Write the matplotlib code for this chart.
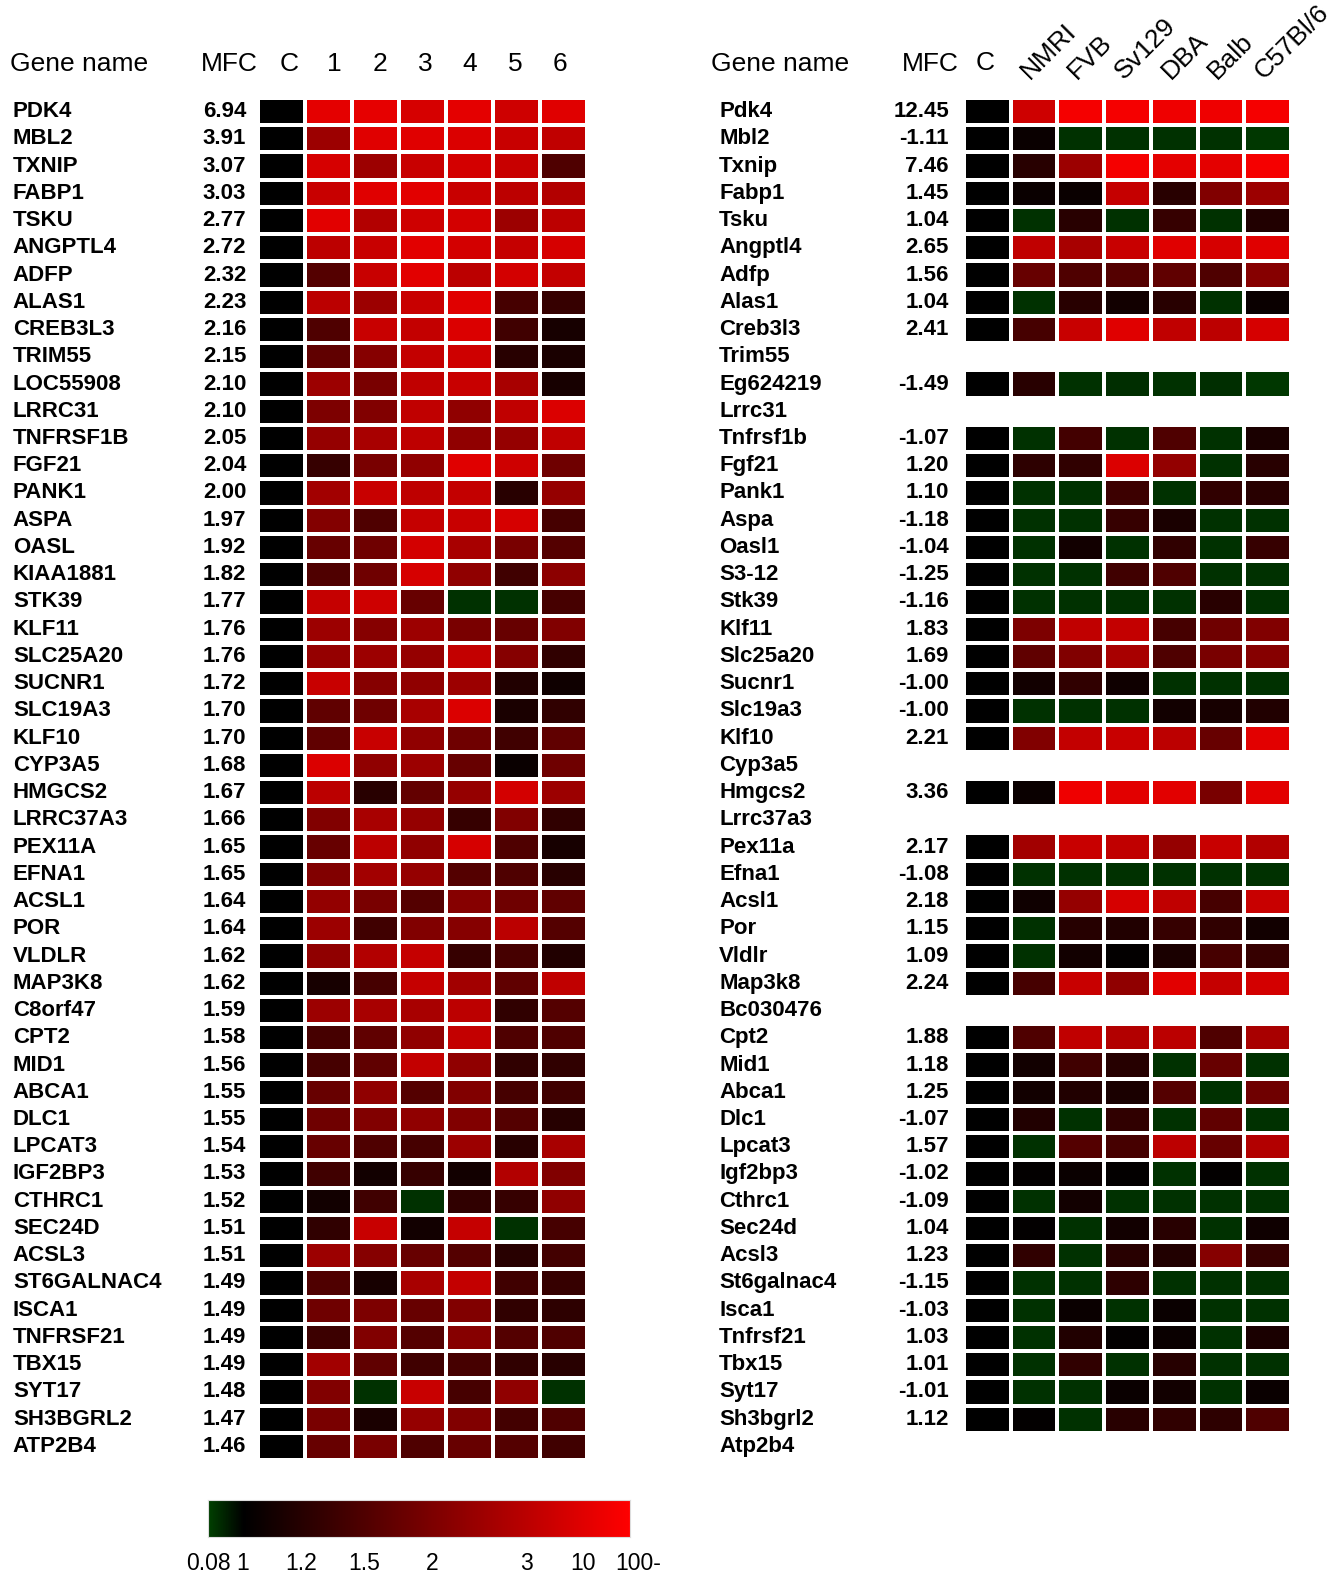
import numpy as np
import matplotlib
matplotlib.use("Agg")
import matplotlib.pyplot as plt
from matplotlib.colors import LinearSegmentedColormap, FuncNorm

plt.rcParams['font.family'] = ['Liberation Sans', 'DejaVu Sans']

W, H = 1337, 1575

# ---------------- data ----------------
human_genes = ['PDK4', 'MBL2', 'TXNIP', 'FABP1', 'TSKU', 'ANGPTL4', 'ADFP', 'ALAS1', 'CREB3L3',
               'TRIM55', 'LOC55908', 'LRRC31', 'TNFRSF1B', 'FGF21', 'PANK1', 'ASPA', 'OASL',
               'KIAA1881', 'STK39', 'KLF11', 'SLC25A20', 'SUCNR1', 'SLC19A3', 'KLF10', 'CYP3A5',
               'HMGCS2', 'LRRC37A3', 'PEX11A', 'EFNA1', 'ACSL1', 'POR', 'VLDLR', 'MAP3K8',
               'C8orf47', 'CPT2', 'MID1', 'ABCA1', 'DLC1', 'LPCAT3', 'IGF2BP3', 'CTHRC1',
               'SEC24D', 'ACSL3', 'ST6GALNAC4', 'ISCA1', 'TNFRSF21', 'TBX15', 'SYT17',
               'SH3BGRL2', 'ATP2B4']
human_mfc = [6.94, 3.91, 3.07, 3.03, 2.77, 2.72, 2.32, 2.23, 2.16, 2.15, 2.10, 2.10, 2.05, 2.04,
             2.00, 1.97, 1.92, 1.82, 1.77, 1.76, 1.76, 1.72, 1.70, 1.70, 1.68, 1.67, 1.66, 1.65,
             1.65, 1.64, 1.64, 1.62, 1.62, 1.59, 1.58, 1.56, 1.55, 1.55, 1.54, 1.53, 1.52, 1.51,
             1.51, 1.49, 1.49, 1.49, 1.49, 1.48, 1.47, 1.46]
patients = ['1', '2', '3', '4', '5', '6']
# fold change vs. control, patients 1-6
human_fc = [
    [20, 25, 8, 18, 6.5, 10],          # PDK4
    [2.5, 10, 10, 9, 5.5, 4],          # MBL2
    [8, 2.5, 5.5, 7.5, 5.5, 1.5],      # TXNIP
    [5.5, 10, 12, 5.5, 3.2, 2.85],     # FABP1
    [12, 2.85, 6.5, 7.5, 2.5, 3.2],    # TSKU
    [3.2, 5.5, 12, 7.5, 5, 8],         # ANGPTL4
    [1.55, 5.5, 12, 3, 7.5, 4.5],      # ADFP
    [3, 2.5, 5.5, 10, 1.43, 1.32],     # ALAS1
    [1.5, 5.5, 4.5, 9, 1.39, 1.12],    # CREB3L3
    [1.68, 2.15, 4.5, 6.5, 1.22, 1.14],  # TRIM55
    [2.5, 1.95, 4, 5.5, 2.7, 1.12],    # LOC55908
    [2.0, 2.05, 4, 2.3, 4, 9],         # LRRC31
    [2.4, 2.7, 3.5, 2.3, 2.4, 4],      # TNFRSF1B
    [1.32, 1.95, 2.3, 10, 6.5, 1.85],  # FGF21
    [2.6, 5.5, 3.5, 4.5, 1.22, 2.4],   # PANK1
    [2.1, 1.5, 5, 5.5, 8, 1.43],       # ASPA
    [1.77, 1.85, 7.5, 2.7, 1.95, 1.55],  # OASL
    [1.5, 1.85, 8, 2.3, 1.39, 2.25],   # KIAA1881
    [5, 6.5, 1.77, 0.3, 0.3, 1.43],    # STK39
    [2.5, 2.15, 2.5, 1.95, 1.77, 2.05],  # KLF11
    [2.4, 2.5, 2.4, 4.5, 2.15, 1.27],  # SLC25A20
    [5.5, 2.15, 2.3, 2.5, 1.17, 1.08],  # SUCNR1
    [1.68, 1.85, 2.7, 9, 1.14, 1.27],  # SLC19A3
    [1.68, 5.5, 2.3, 1.85, 1.39, 1.68],  # KLF10
    [9, 2.3, 2.5, 1.77, 1.05, 1.85],   # CYP3A5
    [3, 1.22, 1.72, 2.4, 7.5, 2.5],    # HMGCS2
    [2.05, 2.7, 2.4, 1.32, 2.05, 1.27],  # LRRC37A3
    [1.77, 3.2, 2.3, 8, 1.5, 1.12],    # PEX11A
    [2.05, 2.6, 2.4, 1.55, 1.5, 1.22],  # EFNA1
    [2.35, 1.95, 1.55, 2.15, 1.85, 1.68],  # ACSL1
    [2.5, 1.39, 2.05, 2.15, 3, 1.55],  # POR
    [2.3, 2.85, 5, 1.32, 1.43, 1.17],  # VLDLR
    [1.12, 1.43, 5, 2.6, 1.68, 4],     # MAP3K8
    [2.5, 2.7, 2.7, 3.2, 1.27, 1.55],  # C8orf47
    [1.43, 1.68, 2.3, 4.5, 1.5, 1.5],  # CPT2
    [1.43, 1.68, 4.5, 2.3, 1.27, 1.27],  # MID1
    [1.77, 2.3, 1.55, 2.05, 1.43, 1.39],  # ABCA1
    [1.85, 2.05, 2.3, 2.05, 1.55, 1.2],  # DLC1
    [1.77, 1.5, 1.43, 2.5, 1.22, 2.7],  # LPCAT3
    [1.39, 1.1, 1.32, 1.1, 2.85, 2.05],  # IGF2BP3
    [1.1, 1.39, 0.3, 1.27, 1.32, 2.3],  # CTHRC1
    [1.27, 5.5, 1.1, 5, 0.3, 1.43],    # SEC24D
    [2.5, 2.15, 1.77, 1.55, 1.22, 1.41],  # ACSL3
    [1.5, 1.12, 2.7, 4.5, 1.39, 1.32],  # ST6GALNAC4
    [1.85, 2.0, 1.77, 2.05, 1.27, 1.25],  # ISCA1
    [1.36, 2.05, 1.55, 2.15, 1.55, 1.5],  # TNFRSF21
    [2.6, 1.68, 1.39, 1.43, 1.27, 1.22],  # TBX15
    [2.05, 0.3, 5.5, 1.43, 2.3, 0.3],  # SYT17
    [1.95, 1.14, 2.4, 2.05, 1.41, 1.5],  # SH3BGRL2
    [1.77, 1.95, 1.5, 1.77, 1.55, 1.39],  # ATP2B4
]

mouse_genes = ['Pdk4', 'Mbl2', 'Txnip', 'Fabp1', 'Tsku', 'Angptl4', 'Adfp', 'Alas1', 'Creb3l3',
               'Trim55', 'Eg624219', 'Lrrc31', 'Tnfrsf1b', 'Fgf21', 'Pank1', 'Aspa', 'Oasl1',
               'S3-12', 'Stk39', 'Klf11', 'Slc25a20', 'Sucnr1', 'Slc19a3', 'Klf10', 'Cyp3a5',
               'Hmgcs2', 'Lrrc37a3', 'Pex11a', 'Efna1', 'Acsl1', 'Por', 'Vldlr', 'Map3k8',
               'Bc030476', 'Cpt2', 'Mid1', 'Abca1', 'Dlc1', 'Lpcat3', 'Igf2bp3', 'Cthrc1',
               'Sec24d', 'Acsl3', 'St6galnac4', 'Isca1', 'Tnfrsf21', 'Tbx15', 'Syt17',
               'Sh3bgrl2', 'Atp2b4']
mouse_mfc = [12.45, -1.11, 7.46, 1.45, 1.04, 2.65, 1.56, 1.04, 2.41, None, -1.49, None, -1.07,
             1.20, 1.10, -1.18, -1.04, -1.25, -1.16, 1.83, 1.69, -1.00, -1.00, 2.21, None, 3.36,
             None, 2.17, -1.08, 2.18, 1.15, 1.09, 2.24, None, 1.88, 1.18, 1.25, -1.07, 1.57,
             -1.02, -1.09, 1.04, 1.23, -1.15, -1.03, 1.03, 1.01, -1.01, 1.12, None]
strains = ['NMRI', 'FVB', 'Sv129', 'DBA', 'Balb', 'C57Bl/6']
# fold change vs. control, mouse strains (None = gene not on array)
mouse_fc = [
    [6.5, 70, 70, 50, 50, 70],         # Pdk4
    [1.05, 0.3, 0.3, 0.3, 0.3, 0.25],  # Mbl2
    [1.22, 2.5, 70, 20, 20, 70],       # Txnip
    [1.05, 1.05, 5, 1.22, 2.05, 2.5],  # Fabp1
    [0.3, 1.22, 0.3, 1.32, 0.3, 1.17],  # Tsku
    [4, 2.7, 5.5, 10, 8, 10],          # Angptl4
    [1.77, 1.5, 1.55, 1.68, 1.5, 2.15],  # Adfp
    [0.3, 1.22, 1.1, 1.22, 0.3, 1.05],  # Alas1
    [1.43, 5.5, 10, 4, 3.2, 8],        # Creb3l3
    None,                              # Trim55
    [1.22, 0.3, 0.35, 0.3, 0.35, 0.25],  # Eg624219
    None,                              # Lrrc31
    [0.3, 1.41, 0.3, 1.5, 0.3, 1.14],  # Tnfrsf1b
    [1.25, 1.27, 9, 2.35, 0.3, 1.22],  # Fgf21
    [0.3, 0.3, 1.36, 0.3, 1.27, 1.22],  # Pank1
    [0.3, 0.3, 1.32, 1.14, 0.3, 0.3],  # Aspa
    [0.3, 1.1, 0.3, 1.27, 0.3, 1.32],  # Oasl1
    [0.3, 0.3, 1.39, 1.5, 0.3, 0.3],   # S3-12
    [0.3, 0.3, 0.3, 0.3, 1.22, 0.3],   # Stk39
    [2.0, 4, 4.5, 1.43, 1.85, 2.05],   # Klf11
    [1.68, 2.05, 2.7, 1.5, 1.95, 2.15],  # Slc25a20
    [1.1, 1.27, 1.08, 0.3, 0.3, 0.3],  # Sucnr1
    [0.3, 0.3, 0.3, 1.1, 1.12, 1.17],  # Slc19a3
    [2.05, 4.5, 5.5, 3.2, 1.77, 12],   # Klf10
    None,                              # Cyp3a5
    [1.05, 50, 12, 12, 1.95, 12],      # Hmgcs2
    None,                              # Lrrc37a3
    [2.6, 5.5, 4, 2.4, 5.5, 2.85],     # Pex11a
    [0.3, 0.3, 0.3, 0.3, 0.3, 0.3],    # Efna1
    [1.08, 2.4, 8, 4, 1.43, 5.5],      # Acsl1
    [0.3, 1.2, 1.17, 1.32, 1.27, 1.1],  # Por
    [0.3, 1.1, 1.02, 1.14, 1.43, 1.32],  # Vldlr
    [1.43, 5.5, 2.3, 12, 5, 7.5],      # Map3k8
    None,                              # Bc030476
    [1.5, 4, 2.85, 3, 1.5, 2.7],       # Cpt2
    [1.1, 1.39, 1.2, 0.3, 1.77, 0.3],  # Mid1
    [1.1, 1.17, 1.14, 1.55, 0.3, 1.85],  # Abca1
    [1.17, 0.3, 1.27, 0.3, 1.68, 0.3],  # Dlc1
    [0.3, 1.55, 1.43, 3.2, 1.77, 2.85],  # Lpcat3
    [1.02, 1.05, 1.02, 0.3, 1.02, 0.3],  # Igf2bp3
    [0.3, 1.1, 0.3, 0.3, 0.3, 0.3],    # Cthrc1
    [1.02, 0.3, 1.1, 1.22, 0.3, 1.08],  # Sec24d
    [1.27, 0.3, 1.22, 1.17, 2.15, 1.32],  # Acsl3
    [0.3, 0.3, 1.25, 0.3, 0.3, 0.3],   # St6galnac4
    [0.3, 1.05, 0.3, 1.05, 0.3, 0.3],  # Isca1
    [0.3, 1.17, 1.02, 1.05, 0.3, 1.14],  # Tnfrsf21
    [0.3, 1.27, 0.3, 1.2, 0.3, 0.3],   # Tbx15
    [0.3, 0.3, 1.05, 1.1, 0.3, 1.05],  # Syt17
    [1.02, 0.3, 1.22, 1.27, 1.25, 1.5],  # Sh3bgrl2
    None,                              # Atp2b4
]

cbar_ticks = [0.08, 1, 1.2, 1.5, 2, 3, 10, 100]
cbar_labels = ['0.08', '1', '1.2', '1.5', '2', '3', '10', '100-']

# ---------------- colour scale ----------------
# position of each tick along the (non-linear) colour bar
scale_pos = [0, 0.083, 0.22, 0.369, 0.532, 0.754, 0.889, 1.0]
norm = FuncNorm((lambda v: np.interp(v, cbar_ticks, scale_pos),
                 lambda p: np.interp(p, scale_pos, cbar_ticks)), vmin=0.08, vmax=100)
cmap = LinearSegmentedColormap.from_list(
    'grn_blk_red', [(0, (0, 0.25, 0)), (0.083, (0, 0, 0)), (1, (1, 0, 0))])


def build_matrix(fc_rows):
    rows = []
    for r in fc_rows:
        if r is None:
            rows.append([np.nan] * 7)
        else:
            rows.append([1.0] + list(r))   # control column C = 1
    return np.array(rows, dtype=float)


fig = plt.figure(figsize=(W / 100, H / 100), dpi=100)


def px_axes(x0, y0, x1, y1):
    return fig.add_axes([x0 / W, 1 - y1 / H, (x1 - x0) / W, (y1 - y0) / H])


def draw_panel(ax, genes, mfc, mat, lab_x, mfc_x, head_x, mfc_head_x):
    ax.pcolormesh(mat, cmap=cmap, norm=norm, edgecolors='white', linewidth=1.6)
    ax.set_xlim(0, mat.shape[1])
    ax.set_ylim(mat.shape[0], 0)
    ax.axis('off')
    ty = ax.get_yaxis_transform()
    for i, g in enumerate(genes):
        ax.text(lab_x, i + 0.5, g, transform=ty, ha='left', va='center',
                fontsize=16, fontweight='bold')
        if mfc[i] is not None:
            ax.text(mfc_x, i + 0.5, '%.2f' % mfc[i], transform=ty, ha='right',
                    va='center', fontsize=16, fontweight='bold')
    ax.text(head_x, 1.025, 'Gene name', transform=ax.transAxes, ha='left',
            va='center', fontsize=19)
    ax.text(mfc_head_x, 1.025, 'MFC', transform=ax.transAxes, ha='center',
            va='center', fontsize=19)


# left panel: human livers
human_mat = build_matrix(human_fc)
ax1 = px_axes(258, 98, 587, 1460)
draw_panel(ax1, human_genes, human_mfc, human_mat, -0.745, -0.036, -0.754, -0.088)
tx1 = ax1.get_xaxis_transform()
for j, lab in enumerate(['C'] + patients):
    ax1.text(j + 0.5 + 0.17 - 0.04 * j, 1.025, lab, transform=tx1, ha='center',
             va='center', fontsize=19)

# right panel: mouse strains
mouse_mat = build_matrix(mouse_fc)
ax2 = px_axes(964, 98, 1291, 1460)
draw_panel(ax2, mouse_genes, mouse_mfc, mouse_mat, -0.749, -0.046, -0.774, -0.104)
tx2 = ax2.get_xaxis_transform()
ax2.text(0.45, 1.026, 'C', transform=tx2, ha='center', va='center', fontsize=19)
for j, lab in enumerate(strains):
    ax2.text(j + 1.42, 1.0135, lab, transform=tx2, ha='left', va='baseline',
             rotation=45, rotation_mode='anchor', fontsize=19)

# colour bar
axc = px_axes(208, 1500, 630, 1537)
axc.imshow(np.linspace(0, 1, 512)[None, :], cmap=cmap, aspect='auto',
           extent=[0, 1, 0, 1])
axc.set_xticks([])
axc.set_yticks([])
for s in axc.spines.values():
    s.set_color('#dddddd')
    s.set_linewidth(0.8)
txc = axc.get_xaxis_transform()
for v, lab in zip(cbar_ticks, cbar_labels):
    if lab.endswith('-'):
        axc.text(norm(v) - 0.035, -0.72, lab, transform=txc, ha='left', va='center',
                 fontsize=16.5)
    else:
        axc.text(norm(v), -0.72, lab, transform=txc, ha='center', va='center',
                 fontsize=16.5)

fig.savefig('out.png', dpi=100, facecolor='white')
